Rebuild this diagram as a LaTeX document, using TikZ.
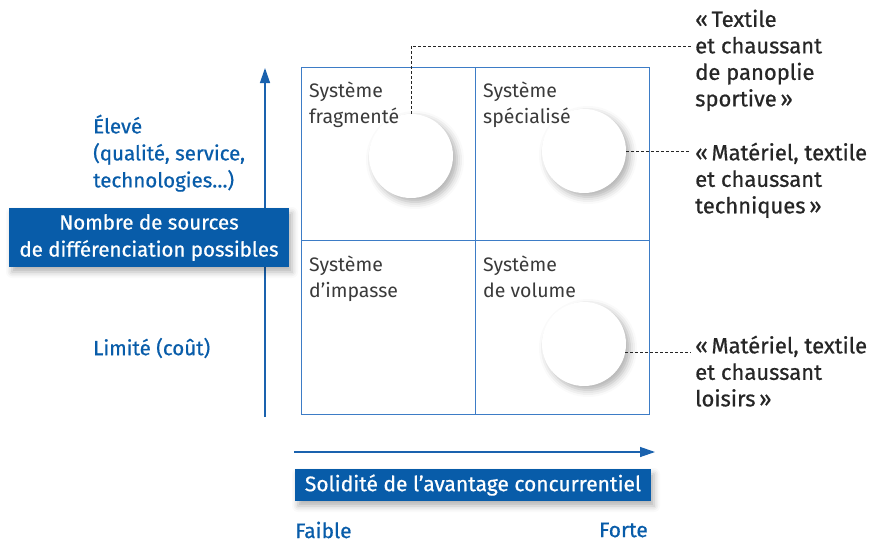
\documentclass[tikz,border=0pt]{standalone}
\usepackage{fontspec}
\setmainfont{Fira Sans}
\newfontfamily\medfont{Fira Sans}[FakeBold=0.7]
\usetikzlibrary{shadows.blur,arrows.meta}
\definecolor{axisblue}{HTML}{1A62AE}
\definecolor{boxblue}{HTML}{085CA9}
\definecolor{gridblue}{HTML}{3D7CC6}
\definecolor{txt}{HTML}{262626}
\definecolor{quadtxt}{HTML}{3A3A3A}
\begin{document}
\begin{tikzpicture}[x=1pt,y=-1pt,
  cell/.style={draw=gridblue, line width=1pt, minimum width=174pt, minimum height=173.5pt, inner sep=0pt},
  quad/.style={anchor=north west, align=left, font=\fontsize{19.5}{26}\selectfont, text=quadtxt, inner sep=0pt},
  bubble/.style={circle, fill=white, minimum size=84pt, inner sep=0pt,
    blur shadow={shadow xshift=4pt, shadow yshift=-4pt, shadow blur radius=7pt, shadow opacity=32}},
  leader/.style={draw=txt, dash pattern=on 3pt off 2pt, line width=0.8pt},
  ext/.style={anchor=north west, align=left, font=\medfont\fontsize{22}{26.5}\selectfont, text=txt, inner sep=0pt},
  bluetxt/.style={text=boxblue, font=\medfont\fontsize{20.5}{27}\selectfont, align=left, inner sep=0pt},
  bluebox/.style={fill=boxblue, text=white, inner sep=0pt, font=\medfont\fontsize{20.5}{27}\selectfont, align=center,
    blur shadow={shadow xshift=3pt, shadow yshift=-5pt, shadow blur radius=6pt, shadow opacity=30}},
  axis/.style={draw=axisblue, line width=1.3pt, -{Triangle[length=15pt,width=10pt]}}
]
\useasboundingbox (0,0) rectangle (880,543);

% axes
\coordinate (vy0) at (265,417);
\coordinate (vy1) at (265,68);
\coordinate (hx0) at (294,452);
\coordinate (hx1) at (655,452);
\draw[axis] (vy0) -- (vy1);
\draw[axis] (hx0) -- (hx1);

% grid cells
\node[cell] (q1) at (388,154) {};
\node[cell] (q2) at (562,154) {};
\node[cell] (q3) at (388,327.5) {};
\node[cell] (q4) at (562,327.5) {};

% bubbles
\node[bubble] (c1) at (411,156) {};
\node[bubble] (c2) at (584,151) {};
\node[bubble] (c3) at (584,344) {};

% quadrant texts (over the bubbles)
\node[quad] (t1) at (309,82) {Système\\fragmenté};
\node[quad] (t2) at (483,82) {Système\\spécialisé};
\node[quad] (t3) at (309,256) {Système\\d’impasse};
\node[quad] (t4) at (483,256) {Système\\de volume};

% leaders
\coordinate (k1) at (691,46);
\coordinate (k2) at (691,151);
\coordinate (k3) at (691,352);
\draw[leader] (c1.north) |- (k1);
\draw[leader] (c2.east) -- (k2);
\draw[leader] (c3.-11) -- (c3.-11 -| k3);

% external labels
\node[ext] (l1) at (695,9.5) {«\,Textile\\et chaussant\\de panoplie\\sportive\,»};
\node[ext] (l2) at (695,142.5) {«\,Matériel, textile\\et chaussant\\techniques\,»};
\node[ext] (l3) at (695,335.5) {«\,Matériel, textile\\et chaussant\\loisirs\,»};

% vertical axis labels
\node[bluetxt, anchor=north west] (hi) at (93,114.5) {Élevé\\(qualité, service,\\technologies…)};
\node[bluetxt, anchor=west] (lo) at (93,348) {Limité (coût)};
\node[bluebox, minimum width=280pt, minimum height=59pt] (ylab) at (149,237.5) {Nombre de sources\\de différenciation possibles};

% horizontal axis labels
\node[bluebox, minimum width=356pt, minimum height=32pt, font=\medfont\fontsize{21}{27}\selectfont] (xlab) at (473,485) {Solidité de l’avantage concurrentiel};
\node[bluetxt, anchor=west, font=\medfont\fontsize{21}{27}\selectfont] (fa) at (295,530) {Faible};
\node[bluetxt, anchor=east, font=\medfont\fontsize{21}{27}\selectfont] (fo) at (648,530) {Forte};
\end{tikzpicture}
\end{document}
